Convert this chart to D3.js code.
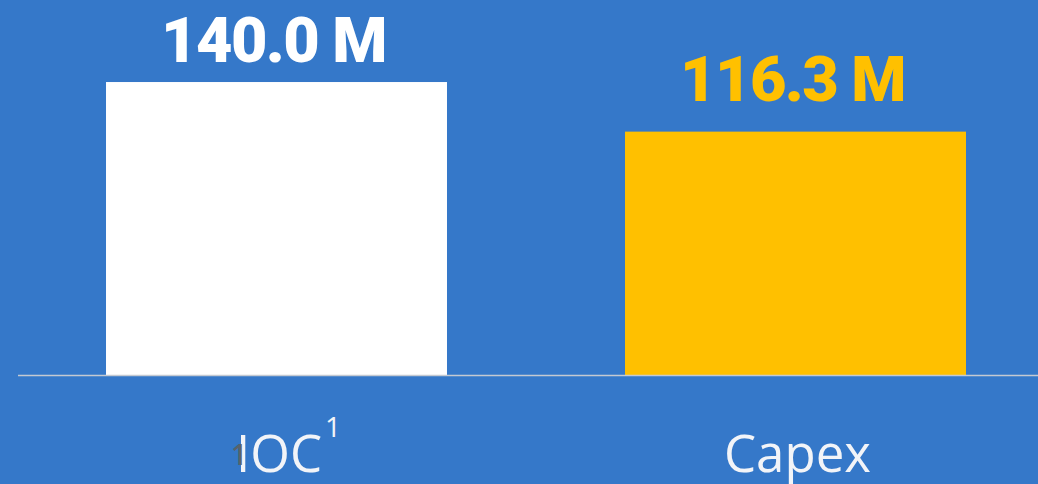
<!DOCTYPE html>
<html>
<head>
<meta charset="utf-8">
<script src="https://cdn.jsdelivr.net/npm/d3@7"></script>
<style>
  html, body { margin: 0; padding: 0; background: #3578c9; overflow: hidden; }
</style>
</head>
<body>
<div id="chart"></div>
<script>
// Chart data
const categories = ['IOC', 'Capex'];
const values = [140.0, 116.3];
const valueLabels = ['140.0 M', '116.3 M'];
const footnotes = ['1', ''];

const width = 1038;
const height = 484;
const baseline = 375;

const barColors = ['#ffffff', '#ffc000'];
const labelGap = [20, 31];

const svg = d3
  .select('#chart')
  .append('svg')
  .attr('width', width)
  .attr('height', height)
  .style('display', 'block');

svg.append('rect').attr('width', width).attr('height', height).attr('fill', '#3578c9');

// Chart scales
const x = d3
  .scaleBand()
  .domain(categories)
  .range([17, 1055])
  .paddingInner(0.343)
  .paddingOuter(0.1715);

const y = d3.scaleLinear().domain([0, 179.2]).range([baseline, 0]);

// Bars
svg
  .selectAll('.bar')
  .data(categories)
  .enter()
  .append('rect')
  .attr('class', 'bar')
  .attr('x', (d) => x(d))
  .attr('y', (d, i) => y(values[i]))
  .attr('width', x.bandwidth())
  .attr('height', (d, i) => y(0) - y(values[i]))
  .attr('fill', (d, i) => barColors[i]);

// Baseline
svg
  .append('line')
  .attr('x1', 18)
  .attr('x2', width)
  .attr('y1', y(0) + 0.5)
  .attr('y2', y(0) + 0.5)
  .attr('stroke', '#c4c9d2')
  .attr('stroke-width', 1.5);

// Value labels
svg
  .selectAll('.value')
  .data(categories)
  .enter()
  .append('text')
  .attr('class', 'value')
  .attr('x', (d) => x(d) + x.bandwidth() / 2 - 3)
  .attr('y', (d, i) => y(values[i]) - labelGap[i])
  .attr('text-anchor', 'middle')
  .style('font-family', 'Roboto, "Noto Sans", sans-serif')
  .style('font-weight', 900)
  .style('font-size', '63px')
  .style('letter-spacing', '-1.6px')
  .attr('fill', (d, i) => barColors[i])
  .text((d, i) => valueLabels[i]);

// Category labels
const cat = svg
  .selectAll('.cat')
  .data(categories)
  .enter()
  .append('text')
  .attr('class', 'cat')
  .attr('x', (d, i) => x(d) + x.bandwidth() / 2 + (i === 0 ? 12 : 2))
  .attr('y', 472)
  .attr('text-anchor', 'middle')
  .style('font-family', '"Open Sans", "Noto Sans", sans-serif')
  .style('font-size', '51px')
  .attr('fill', '#f2f4f8');

cat.append('tspan').text((d) => d);
cat
  .filter((d, i) => footnotes[i] !== '')
  .append('tspan')
  .attr('dx', 3)
  .attr('dy', -35)
  .style('font-size', '28px')
  .text((d) => footnotes[categories.indexOf(d)]);

// stray footnote mark overlapping the I
svg
  .append('text')
  .attr('x', x('IOC') + 125)
  .attr('y', 465)
  .attr('fill', '#59626c')
  .style('font-family', '"Open Sans", "Noto Sans", sans-serif')
  .style('font-size', '28px')
  .style('font-weight', 600)
  .text(footnotes[0]);
</script>
</body>
</html>
